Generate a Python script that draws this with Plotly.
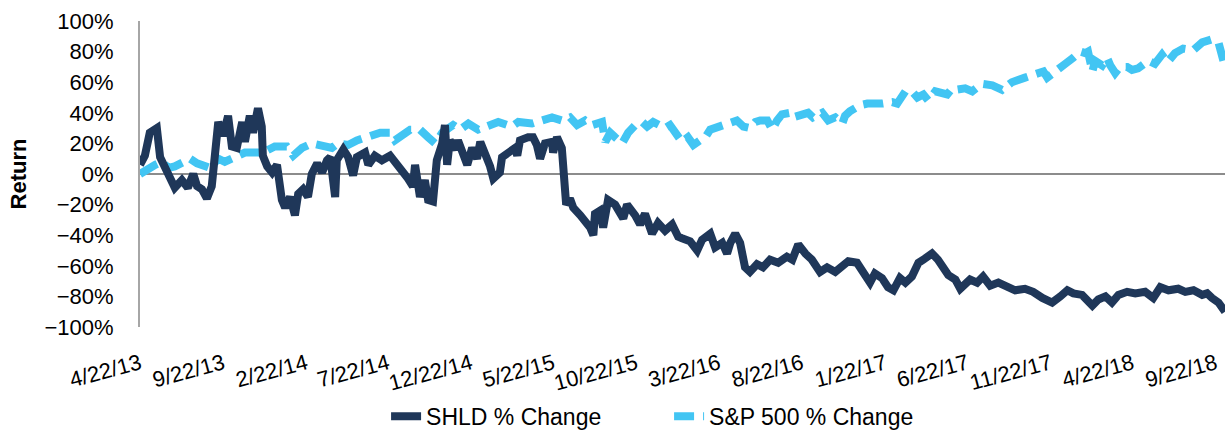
import pandas as pd
import plotly.graph_objects as go

start_date = "2013-04-22"

# SHLD % change: days since 4/22/13, cumulative return (%)
shld_days = [0, 9, 18, 31, 37, 46, 59, 64, 77, 88, 98, 105, 114, 123, 132, 138, 144, 153, 162, 169,
             178, 188, 193, 202, 208, 217, 224, 226, 234, 243, 252, 261, 267, 276, 285, 291, 300, 309,
             316, 326, 335, 344, 350, 359, 362, 374, 383, 392, 399, 414, 420, 432, 445, 460, 469, 482,
             493, 502, 506, 515, 524, 530, 539, 546, 556, 561, 565, 570, 580, 585, 602, 611, 620, 626,
             635, 644, 650, 662, 666, 677, 690, 694, 699, 714, 723, 730, 736, 745, 758, 760, 767, 776,
             778, 780, 784, 791, 797, 810, 819, 828, 834, 837, 846, 852, 861, 874, 889, 896, 911, 920,
             929, 942, 953, 966, 979, 990, 997, 1012, 1025, 1034, 1049, 1058, 1071, 1080, 1086, 1095,
             1104, 1113, 1122, 1135, 1146, 1159, 1174, 1190, 1200, 1211, 1224, 1236, 1251, 1264, 1279,
             1292, 1303, 1319, 1330, 1343, 1352, 1365, 1376, 1386, 1398, 1408, 1420, 1432, 1441, 1457,
             1468, 1478, 1487, 1500, 1509, 1527, 1540, 1551, 1564, 1579, 1595, 1610, 1628, 1643, 1660,
             1678, 1693, 1706, 1717, 1733, 1752, 1763, 1776, 1788, 1800, 1816, 1831, 1849, 1864, 1877,
             1892, 1910, 1923, 1938, 1954, 1963, 1972, 1984, 1996]
shld_pct = [6, 12, 27, 30, 11, 5, -4, -9, -4, -9, 0, -8, -10, -16, -8, 11, 34, 25, 38, 18,
            17, 34, 21, 38, 27, 43, 31, 12, 5, 1, 6, -17, -22, -15, -27, -13, -10, -15,
            0, 7, 1, 9, 11, -15, 9, 16, 11, -1, 11, 14, 6, 12, 9, 12, 8, 3,
            -3, -8, 6, -15, -4, -17, -18, 9, 20, 32, 6, 22, 16, 22, 6, 17, 10, 21,
            14, 5, -3, 1, 11, 14, 17, 12, 22, 24, 24, 19, 10, 20, 21, 14, 24, 17,
            8, -17, -20, -16, -22, -27, -31, -35, -40, -26, -24, -35, -17, -20, -29, -20, -27, -33,
            -26, -39, -32, -37, -33, -41, -42, -44, -50, -43, -39, -48, -45, -52, -45, -39,
            -45, -61, -64, -59, -61, -56, -58, -54, -56, -46, -52, -56, -64, -61, -64,
            -61, -57, -58, -65, -71, -65, -68, -74, -76, -68, -71, -67, -58, -56, -52,
            -56, -61, -66, -69, -75, -69, -71, -67, -73, -71, -74, -76, -75, -77, -81,
            -84, -80, -76, -78, -79, -86, -82, -80, -84, -79, -77, -78, -77, -81, -74,
            -76, -75, -77, -76, -79, -78, -81, -84, -90]

# S&P 500 % change: days since 4/22/13, cumulative return (%)
sp_days = [0, 15, 28, 40, 52, 64, 77, 92, 105, 120, 129, 144, 156, 175, 193, 212, 226, 248, 270, 282,
           298, 316, 335, 353, 364, 383, 399, 420, 442, 460, 469, 497, 515, 530, 543, 556, 576, 589,
           604, 622, 640, 659, 684, 696, 721, 740, 758, 776, 791, 804, 819, 832, 850, 856, 865, 874,
           887, 898, 911, 924, 933, 944, 957, 966, 975, 990, 997, 1008, 1018, 1030, 1040, 1049, 1064,
           1076, 1089, 1098, 1110, 1122, 1132, 1141, 1154, 1163, 1172, 1181, 1196, 1201, 1229, 1238,
           1255, 1266, 1279, 1292, 1297, 1306, 1325, 1338, 1365, 1384, 1393, 1408, 1420, 1430, 1441,
           1450, 1463, 1485, 1494, 1500, 1518, 1531, 1549, 1568, 1586, 1604, 1628, 1647, 1662, 1669,
           1688, 1702, 1717, 1730, 1739, 1744, 1752, 1757, 1770, 1779, 1785, 1794, 1803, 1816, 1825,
           1836, 1855, 1867, 1880, 1890, 1904, 1919, 1938, 1954, 1972, 1984, 1993]
sp_pct = [0, 4, 6, 8, 4, 5, 8, 10, 7, 5, 4, 10, 8, 11, 14, 14, 14, 18, 18, 12,
          17, 20, 19, 17, 20, 19, 22, 25, 27, 27, 22, 29, 29, 24, 20, 27, 32, 29,
          33, 29, 31, 34, 31, 34, 33, 35, 37, 35, 37, 32, 35, 32, 34, 21, 27, 24,
          20, 27, 32, 34, 31, 34, 32, 30, 32, 24, 21, 24, 19, 22, 24, 29, 31,
          33, 34, 35, 31, 30, 34, 35, 35, 29, 35, 39, 40, 37, 40, 37,
          40, 35, 37, 33, 38, 41, 45, 46, 46, 47, 46, 54, 54, 50, 52,
          48, 54, 52, 56, 55, 56, 54, 59, 58, 55, 60, 63, 65, 67, 63,
          69, 72, 76, 80, 79, 80, 67, 74, 71, 76, 71, 66, 70, 70, 68,
          69, 74, 72, 78, 73, 79, 82, 81, 86, 88, 86, 74]

x_start = "2013-04-22"
x_end = "2018-10-09"

t0 = pd.Timestamp(start_date)
shld_dates = [t0 + pd.Timedelta(days=d) for d in shld_days]
sp_dates = [t0 + pd.Timedelta(days=d) for d in sp_days]
shld_ret = [v / 100 for v in shld_pct]
sp_ret = [v / 100 for v in sp_pct]

FONT = "Liberation Sans, Arial, sans-serif"

fig = go.Figure()
fig.add_trace(go.Scatter(
    x=sp_dates, y=sp_ret, mode="lines", name="S&P 500 % Change",
    line=dict(color="#42C5F3", width=8, dash="20px,9px"), legendrank=2,
))
fig.add_trace(go.Scatter(
    x=shld_dates, y=shld_ret, mode="lines", name="SHLD % Change",
    line=dict(color="#1F3759", width=8), legendrank=1,
))

fig.update_layout(
    width=1225, height=434,
    margin=dict(l=140, r=0, t=21, b=107, autoexpand=False),
    paper_bgcolor="white", plot_bgcolor="white",
    font=dict(family=FONT, color="black", size=21),
    showlegend=True,
    legend=dict(
        orientation="h", x=0.2268, xanchor="left", y=-0.292, yanchor="middle",
        font=dict(family=FONT, size=23, color="black"),
        entrywidth=238, entrywidthmode="pixels",
        bgcolor="rgba(0,0,0,0)",
    ),
)
fig.update_xaxes(
    type="date", range=[x_start, x_end], automargin=False,
    tick0=x_start, dtick="M5", tickformat="%-m/%-d/%y",
    tickangle=-15, tickfont=dict(family=FONT, size=22, color="black"),
    showgrid=False, showline=False, zeroline=False,
    ticks="", ticklabelstandoff=19,
)
fig.update_yaxes(
    range=[-1, 1], dtick=0.2, tick0=0, tickformat=".0%", automargin=False,
    tickfont=dict(family=FONT, size=22, color="black"),
    showgrid=False, zeroline=True, zerolinecolor="#8C8C8C", zerolinewidth=2,
    showline=True, linecolor="#A6A6A6", linewidth=2,
    ticks="", ticklabelstandoff=20,
    title=dict(text="<b>Return</b>", font=dict(family=FONT, size=22, color="black"), standoff=12),
)

fig.write_html(
    "out.html",
    config={"displayModeBar": False},
    post_script="document.body.style.margin='0';document.body.style.padding='0';",
)
